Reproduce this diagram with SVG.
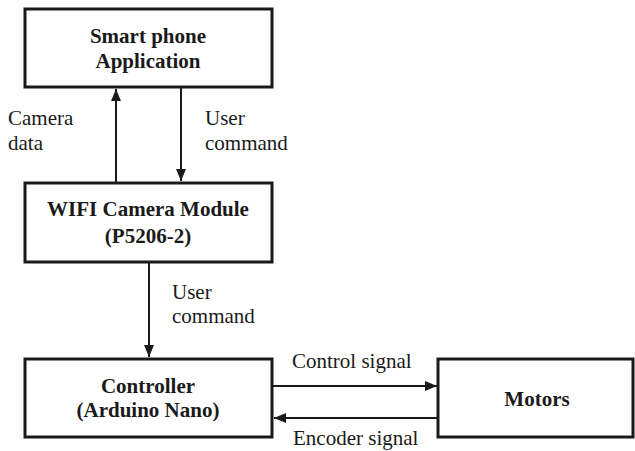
<svg xmlns="http://www.w3.org/2000/svg" width="635" height="451" viewBox="0 0 635 451">
  <style>
    .box { fill: #ffffff; stroke: #1a1a1a; stroke-width: 3; }
    .wire { stroke: #1a1a1a; stroke-width: 2; fill: none; }
    .title { font-family: "Liberation Serif", "Times New Roman", serif; font-size: 21px; font-weight: bold; fill: #1a1a1a; text-anchor: middle; }
    .label { font-family: "Liberation Serif", "Times New Roman", serif; font-size: 21px; fill: #1a1a1a; }
  </style>
  <defs>
    <marker id="arrow" viewBox="0 0 12 10" refX="12" refY="5" markerWidth="12" markerHeight="10" markerUnits="userSpaceOnUse" orient="auto">
      <path d="M0,0 L12,5 L0,10 Z" fill="#1a1a1a"/>
    </marker>
  </defs>
  <rect width="635" height="451" fill="#ffffff"/>

  <g id="smartphone">
    <rect class="box" x="25" y="9" width="247" height="78"/>
    <text class="title" x="148" y="43">Smart phone</text>
    <text class="title" x="148" y="68">Application</text>
  </g>

  <g id="wifi-camera">
    <rect class="box" x="25" y="183" width="247" height="79"/>
    <text class="title" x="148" y="216">WIFI Camera Module</text>
    <text class="title" x="148" y="243">(P5206-2)</text>
  </g>

  <g id="controller">
    <rect class="box" x="25" y="359" width="247" height="78"/>
    <text class="title" x="148" y="393">Controller</text>
    <text class="title" x="148" y="417">(Arduino Nano)</text>
  </g>

  <g id="motors">
    <rect class="box" x="438" y="359" width="195" height="78"/>
    <text class="title" x="537" y="406">Motors</text>
  </g>

  <g id="connectors">
    <line class="wire" x1="116" y1="182" x2="116" y2="89" marker-end="url(#arrow)"/>
    <line class="wire" x1="181" y1="88" x2="181" y2="181" marker-end="url(#arrow)"/>
    <line class="wire" x1="149" y1="263" x2="149" y2="357" marker-end="url(#arrow)"/>
    <line class="wire" x1="273" y1="386" x2="437" y2="386" marker-end="url(#arrow)"/>
    <line class="wire" x1="437" y1="418" x2="274" y2="418" marker-end="url(#arrow)"/>

    <text class="label" x="8" y="125">Camera</text>
    <text class="label" x="8" y="150">data</text>
    <text class="label" x="205" y="125">User</text>
    <text class="label" x="205" y="150">command</text>
    <text class="label" x="172" y="299">User</text>
    <text class="label" x="172" y="323">command</text>
    <text class="label" x="292" y="368">Control signal</text>
    <text class="label" x="293" y="445">Encoder signal</text>
  </g>
</svg>
